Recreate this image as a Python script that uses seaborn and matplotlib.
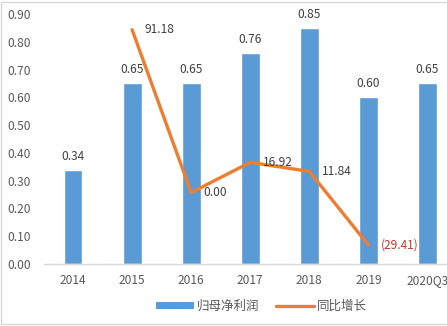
import matplotlib
matplotlib.use("Agg")
import matplotlib.pyplot as plt
import matplotlib.patches as mpatches
import matplotlib.lines as mlines
import seaborn as sns
import pandas as pd

# Net profit attributable to parent (bars) and YoY growth in % (line)
years = ["2014", "2015", "2016", "2017", "2018", "2019", "2020Q3"]
profit = [0.34, 0.65, 0.65, 0.76, 0.85, 0.60, 0.65]
growth_years = ["2015", "2016", "2017", "2018", "2019"]
growth = [91.18, 0.00, 16.92, 11.84, -29.41]
growth_labels = ["91.18", "0.00", "16.92", "11.84", "(29.41)"]
yticks = [0.00, 0.10, 0.20, 0.30, 0.40, 0.50, 0.60, 0.70, 0.80, 0.90]

BAR = "#5B9BD5"
LINE = "#ED7D31"
TXT = "#595959"
FS = 8.6

sns.set_style("white")
plt.rcParams["font.family"] = ["Noto Sans CJK SC", "DejaVu Sans"]

fig = plt.figure(figsize=(4.47, 3.26), dpi=100)
ax = fig.add_axes([43.5 / 447, 1 - 264 / 326, 1 - 43.5 / 447, 250 / 326])

bars = pd.DataFrame({"year": years, "profit": profit})
sns.barplot(data=bars, x="year", y="profit", order=years, color=BAR,
            width=0.32, saturation=1, ax=ax)

ax.set_ylim(0, 0.9)
ax.set_yticks(yticks)
ax.set_yticklabels([f"{v:.2f}" for v in yticks], fontsize=FS, color=TXT)
ax.tick_params(axis="x", labelsize=FS, labelcolor=TXT, length=0, pad=7)
ax.tick_params(axis="y", length=0, pad=9)
ax.set_xlabel("")
ax.set_ylabel("")
for s in ["top", "right", "left"]:
    ax.spines[s].set_visible(False)
ax.spines["bottom"].set_color("#D9D9D9")
ax.spines["bottom"].set_linewidth(1)

for cont in ax.containers:
    ax.bar_label(cont, labels=[f"{v:.2f}" for v in profit], padding=5,
                 fontsize=FS, color="#404040")

# Growth line on a hidden secondary axis
ax2 = ax.twinx()
pos = [years.index(y) for y in growth_years]
line_df = pd.DataFrame({"pos": pos, "growth": growth})
sns.lineplot(data=line_df, x="pos", y="growth", color=LINE, linewidth=2.4,
             ax=ax2, legend=False)
ax2.set_ylim(-40, 100)
ax2.set_yticks([])
ax2.set_ylabel("")
ax2.set_xlabel("")
for s in ax2.spines.values():
    s.set_visible(False)

for p, g, lab in zip(pos, growth, growth_labels):
    col = "#C0392B" if g < 0 else "#404040"
    ax2.annotate(lab, (p, g), xytext=(9, 0), textcoords="offset points",
                 ha="left", va="center", fontsize=FS, color=col)

xr = 6 + (447 - 427.5) / 59
ax.set_xlim(-0.5, xr)
ax2.set_xlim(-0.5, xr)

# Legend below the plot
h1 = mpatches.Rectangle((0, 0), 1, 1, facecolor=BAR, edgecolor="none")
h2 = mlines.Line2D([], [], color=LINE, linewidth=2.4)
fig.legend([h1, h2], ["归母净利润", "同比增长"], loc="center",
           bbox_to_anchor=(0.585, 1 - 306 / 326), ncol=2, frameon=False,
           fontsize=9, labelcolor=TXT, handlelength=3.0, handleheight=0.5,
           handletextpad=0.2, columnspacing=1.4)

# Thin chart border
fig.patches.append(mpatches.Rectangle((1 / 447, 2 / 326), 1.2, 1 - 4 / 326,
                                      transform=fig.transFigure, fill=False,
                                      edgecolor="#D9D9D9", linewidth=1))

fig.savefig("out.png", dpi=100)
